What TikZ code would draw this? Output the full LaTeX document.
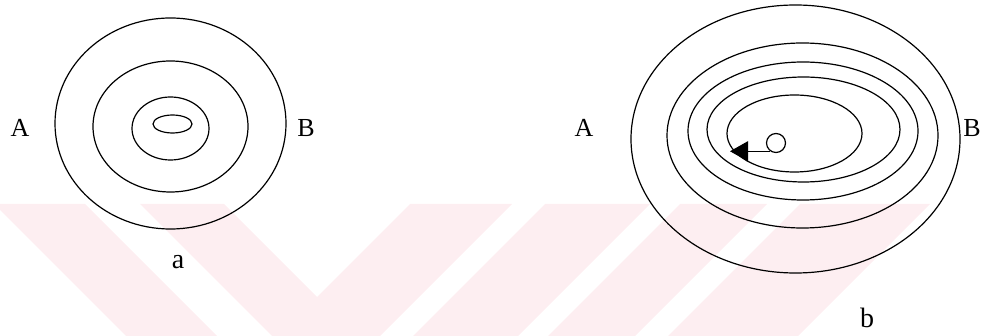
\documentclass[tikz,border=0pt]{standalone}
\usepackage{fontspec}
\setmainfont{Liberation Serif}
\definecolor{wmpink}{HTML}{FDEEF1}
\usetikzlibrary{arrows.meta, positioning}
\tikzset{
  contour/.style={draw=black, line width=1.2pt},
  lbl/.style={font=\fontsize{26}{30}\selectfont, inner sep=0pt},
  sublbl/.style={font=\fontsize{28}{32}\selectfont, inner sep=0pt},
  wm/.style={fill=wmpink, draw=none},
  arr/.style={-{Triangle[length=18pt,width=20pt]}, line width=1.2pt},
}

\begin{document}
\begin{tikzpicture}[x=1pt, y=-1pt]
  \useasboundingbox (0,0) rectangle (982,336);

  % watermark stripes
  \fill[wm] (0,204) -- (85,204) -- (217,336) -- (126,336) -- (0,210) -- cycle;
  \fill[wm] (140,204) -- (224,204) -- (317,297) -- (410,204) -- (512,204)
    -- (380,336) -- (272,336) -- cycle;
  \fill[wm] (545,204) -- (650,204) -- (518,336) -- (413,336) -- cycle;
  \fill[wm] (680,204) -- (767,204) -- (635,336) -- (548,336) -- cycle;
  \fill[wm] (800,204) -- (930,204) -- (798,336) -- (668,336) -- cycle;

  % (a)
  \draw[contour] (170.5,123.5) ellipse [x radius=115.5pt, y radius=105.5pt];
  \draw[contour] (170.5,126.5) ellipse [x radius=77.5pt, y radius=65.5pt];
  \draw[contour] (170.5,128.5) ellipse [x radius=38.5pt, y radius=31.5pt];
  \draw[contour] (172.5,124) ellipse [x radius=19.5pt, y radius=9pt];

  \node[lbl] (aA) at (20,128) {A};
  \node[lbl] (aB) at (306,128) {B};
  \node[sublbl] (capa) at (178,262) {a};

  % (b)
  \draw[contour] (795.5,139) ellipse [x radius=164.5pt, y radius=134pt];
  \draw[contour] (802.5,135.5) ellipse [x radius=135.5pt, y radius=92.5pt];
  \draw[contour] (803,131) ellipse [x radius=115pt, y radius=69pt];
  \draw[contour] (803.5,129.5) ellipse [x radius=96.5pt, y radius=52.5pt];
  \draw[contour] (794.5,133.5) ellipse [x radius=67.5pt, y radius=38.5pt];

  \node[circle, draw, line width=1.2pt, minimum size=19pt, inner sep=0pt]
    (src) at (776,143) {};
  \coordinate (tip) at (730,151);
  \draw[arr] (src.235) -- (src.235 -| tip);

  \node[lbl] (bA) at (584,128) {A};
  \node[lbl] (bB) at (972,128) {B};
  \node[sublbl] (capb) at (867,318) {b};
\end{tikzpicture}
\end{document}
